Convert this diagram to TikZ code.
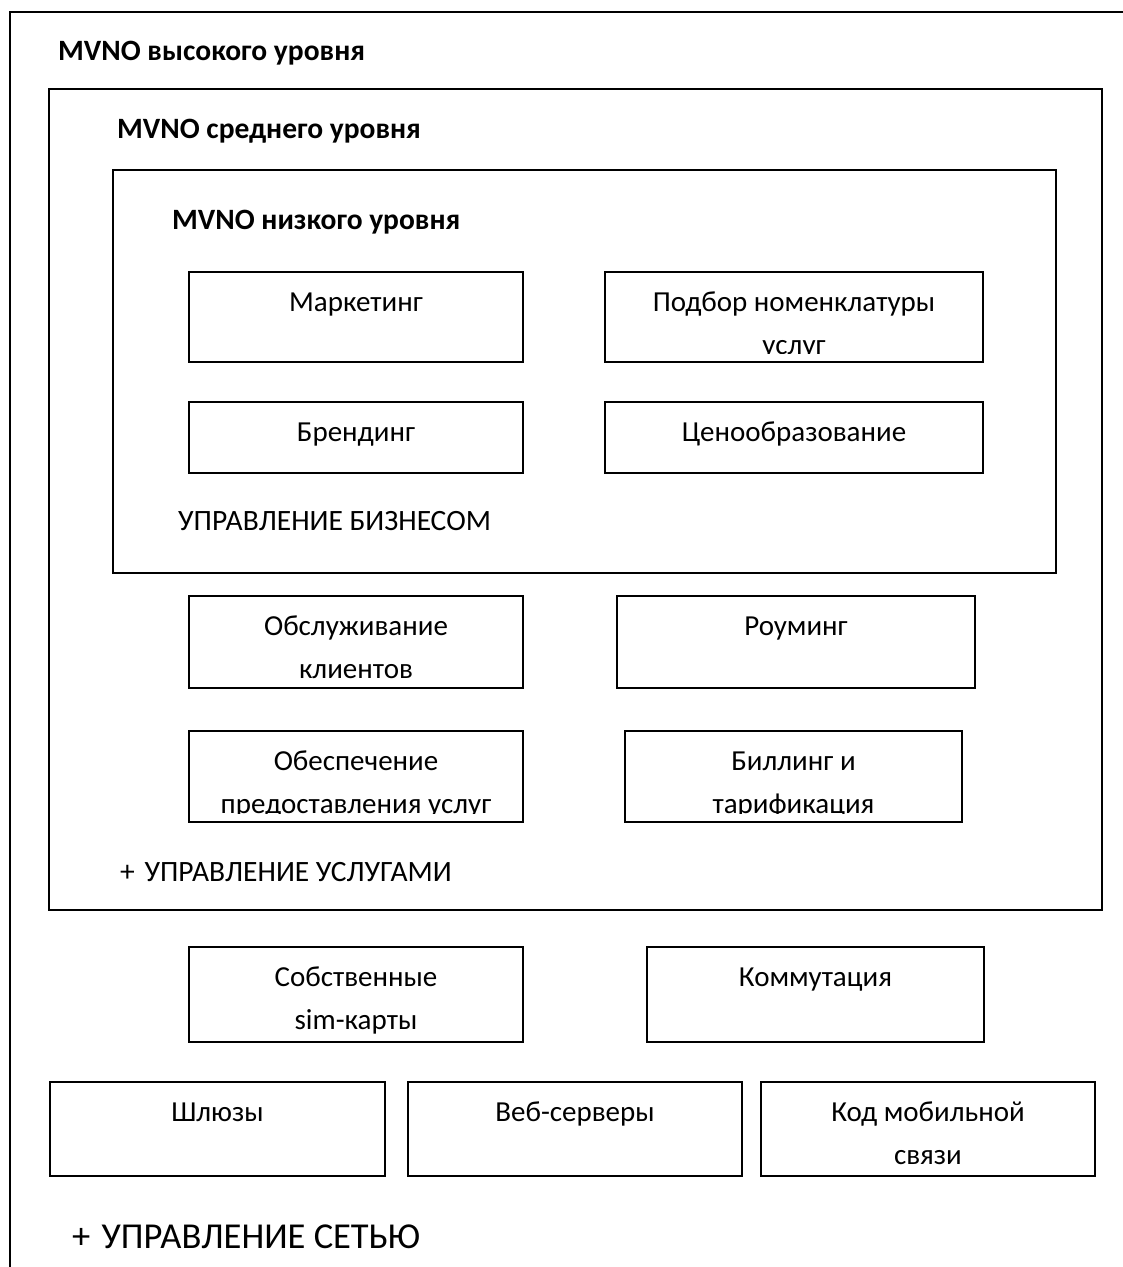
\documentclass[tikz,border=0pt]{standalone}
\usepackage{fontspec}
\setmainfont{Carlito}

\begin{document}
\begin{tikzpicture}[x=1pt,y=-1pt]
	\tikzset{
		blk/.style={draw, line width=1.5pt, inner sep=0pt},
		lbl/.style={font=\fontsize{29}{43}\selectfont, inner sep=0pt, text width=380pt, align=flush center, anchor=base},
		head/.style={font=\fontsize{29.5}{34}\selectfont\bfseries, inner sep=0pt, anchor=base west},
		note/.style={font=\fontsize{29.5}{34}\selectfont, inner sep=0pt, anchor=base west},
		txt/.style={path picture={
			\clip (path picture bounding box.north west) rectangle ([yshift=9pt]path picture bounding box.south east);
			\node[lbl] at ([yshift=-39pt]path picture bounding box.north) {#1};}}
	}
	\useasboundingbox (0,0) rectangle (1123,1267);
	% levels
	\node[blk, minimum width=1130pt, minimum height=1278pt] (high) at (575,651) {};
	\node[blk, minimum width=1053pt, minimum height=821pt] (mid) at (575.5,499.5) {};
	\node[blk, minimum width=943pt, minimum height=403pt] (low) at (584.5,371.5) {};
	\node[head] (th) at (58,60) {MVNO высокого уровня};
	\node[head] (tm) at (117,138) {MVNO среднего уровня};
	\node[head] (tl) at (172,229) {MVNO низкого уровня};
	% business
	\node[blk, minimum width=334pt, minimum height=90pt, txt={Маркетинг}] (mark) at (356,317) {};
	\node[blk, minimum width=378pt, minimum height=90pt, txt={Подбор номенклатуры\\услуг}] (nom) at (794,317) {};
	\node[blk, minimum width=334pt, minimum height=71pt, txt={Брендинг}] (brand) at (356,437.5) {};
	\node[blk, minimum width=378pt, minimum height=71pt, txt={Ценообразование}] (price) at (794,437.5) {};
	\node[note] (nb) at (178,530) {УПРАВЛЕНИЕ БИЗНЕСОМ};
	% services
	\node[blk, minimum width=334pt, minimum height=92pt, txt={Обслуживание\\клиентов}] (care) at (356,642) {};
	\node[blk, minimum width=358pt, minimum height=92pt, txt={Роуминг}] (roam) at (796,642) {};
	\node[blk, minimum width=334pt, minimum height=91pt, txt={Обеспечение\\предоставления услуг}] (prov) at (356,776.5) {};
	\node[blk, minimum width=337pt, minimum height=91pt, txt={Биллинг и\\тарификация}] (bill) at (793.5,776.5) {};
	\node[note] (ns) at (120,881) {+\hspace{3pt} УПРАВЛЕНИЕ УСЛУГАМИ};
	% network
	\node[blk, minimum width=334pt, minimum height=95pt, txt={Собственные\\sim-карты}] (sim) at (356,994.5) {};
	\node[blk, minimum width=337pt, minimum height=95pt, txt={Коммутация}] (sw) at (815.5,994.5) {};
	\node[blk, minimum width=335pt, minimum height=94pt, txt={Шлюзы}] (gw) at (217.5,1129) {};
	\node[blk, minimum width=334pt, minimum height=94pt, txt={Веб-серверы}] (web) at (575,1129) {};
	\node[blk, minimum width=334pt, minimum height=94pt, txt={Код мобильной\\связи}] (code) at (928,1129) {};
	\node[note, font=\fontsize{36.5}{42}\selectfont] (nn) at (72,1248) {+\hspace{3pt} УПРАВЛЕНИЕ СЕТЬЮ};
\end{tikzpicture}
\end{document}
